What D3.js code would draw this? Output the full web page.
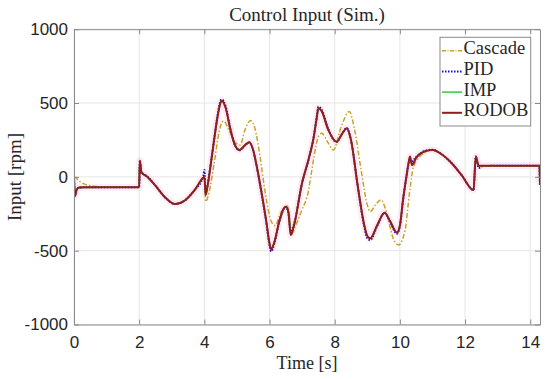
<!DOCTYPE html>
<html>
<head>
<meta charset="utf-8">
<title>Control Input (Sim.)</title>
<script src="https://d3js.org/d3.v7.min.js"></script>
<style>
  body { margin: 0; background: #fff; }
  .tick text { font-family: "Liberation Sans", Arial, sans-serif; font-size: 17px; fill: #262626; }
  .serif { font-family: "Liberation Serif", "Times New Roman", serif; fill: #262626; }
</style>
</head>
<body>
<div id="chart"></div>
<script>
// tick values
const xTicks = [0, 2, 4, 6, 8, 10, 12, 14];
const yTicks = [-1000, -500, 0, 500, 1000];

// time samples shared by PID / IMP / RODOB
const tMain = [0.00, 0.03, 0.08, 0.15, 0.30, 2.00, 2.02, 2.07, 2.25, 2.50,
  2.80, 3.10, 3.40, 3.70, 3.97, 4.00, 4.04, 4.10, 4.20, 4.30,
  4.40, 4.48, 4.53, 4.65, 4.80, 4.95, 5.08, 5.25, 5.38, 5.50,
  5.60, 5.75, 5.90, 6.00, 6.05, 6.15, 6.30, 6.45, 6.50, 6.58,
  6.65, 6.75, 7.00, 7.20, 7.35, 7.45, 7.50, 7.60, 7.80, 8.06,
  8.25, 8.37, 8.50, 8.70, 8.90, 9.00, 9.09, 9.30, 9.53, 9.70,
  9.91, 10.00, 10.10, 10.20, 10.28, 10.31, 10.37, 10.50, 10.75, 11.00,
  11.30, 11.60, 11.90, 12.26, 12.33, 12.42, 12.50, 12.60, 14.28, 14.30];

const rodob = [0, -130, -90, -72, -70, -70, 110, 30, 0, -60,
  -140, -184, -160, -90, -5, 0, -123, -60, 90, 250,
  400, 490, 516, 470, 320, 210, 182, 215, 234, 180,
  80, -100, -300, -450, -491, -440, -300, -210, -202, -240,
  -394, -330, -40, 120, 260, 400, 465, 445, 320, 238,
  300, 329, 250, -50, -320, -400, -416, -330, -243, -300,
  -378, -330, -150, 0, 110, 137, 80, 130, 172, 182,
  150, 90, 10, -89, 137, 74, 76, 76, 76, -55];

const pid = [0, -120, -85, -74, -70, -70, 110, 35, 2, -60,
  -140, -184, -160, -90, 5, 47, -110, -55, 95, 255,
  410, 505, 525, 480, 325, 210, 180, 215, 232, 178,
  78, -105, -310, -465, -505, -450, -305, -212, -205, -245,
  -370, -320, -40, 120, 265, 410, 475, 455, 325, 236,
  302, 330, 250, -55, -330, -415, -428, -335, -245, -305,
  -385, -335, -155, 0, 100, 115, 105, 135, 174, 184,
  150, 90, 10, -89, 137, 60, 70, 74, 76, -55];

const imp = [0, -100, -80, -76, -72, -70, 110, 30, 0, -60,
  -140, -184, -160, -90, -5, 0, -123, -60, 90, 250,
  400, 490, 516, 470, 320, 210, 182, 215, 234, 180,
  80, -100, -300, -450, -491, -440, -300, -210, -202, -240,
  -394, -330, -40, 120, 260, 400, 465, 445, 320, 238,
  300, 329, 250, -50, -320, -400, -416, -330, -243, -300,
  -378, -330, -150, 0, 110, 137, 80, 130, 172, 182,
  150, 90, 10, -89, 137, 74, 76, 76, 76, -55];

// Cascade has its own time samples
const tCascade = [0.00, 0.05, 0.20, 0.40, 0.70, 1.00, 2.00, 2.02, 2.07, 2.25,
  2.50, 2.80, 3.10, 3.40, 3.70, 3.97, 4.00, 4.04, 4.15, 4.30,
  4.45, 4.52, 4.59, 4.75, 4.95, 5.10, 5.25, 5.42, 5.55, 5.70,
  5.90, 6.05, 6.17, 6.35, 6.53, 6.60, 6.66, 6.80, 7.00, 7.20,
  7.25, 7.40, 7.50, 7.60, 7.80, 7.96, 8.20, 8.45, 8.60, 8.80,
  9.00, 9.09, 9.25, 9.42, 9.60, 9.80, 9.96, 10.16, 10.30, 10.42,
  10.73, 11.00, 11.30, 11.60, 11.90, 12.26, 12.33, 12.42, 12.60, 14.28,
  14.30];

const cascade = [0, -5, -35, -55, -66, -70, -70, 110, 30, 0,
  -60, -140, -184, -160, -90, -5, 0, -168, -100, 90,
  300, 360, 379, 320, 230, 216, 320, 381, 330, 150,
  -150, -300, -330, -240, -195, -240, -394, -330, -220, -89,
  -21, 180, 272, 295, 230, 182, 340, 442, 330, 60,
  -190, -236, -190, -156, -250, -420, -461, -360, -100, 69,
  160, 182, 150, 90, 10, -89, 137, 74, 76, 76,
  -55];

const seriesNames = ["Cascade", "PID", "IMP", "RODOB"];

const W = 550, H = 379;
const mLeft = 74, mRight = 540, mTop = 29.2, mBottom = 324.5;

const svg = d3.select("#chart").append("svg")
  .attr("width", W).attr("height", H);

const x = d3.scaleLinear().domain([0, 14.3]).range([mLeft, mRight]);
const y = d3.scaleLinear().domain([-1000, 1000]).range([mBottom, mTop]);

// grid
svg.append("g").selectAll("line").data(xTicks).enter().append("line")
  .attr("x1", d => x(d)).attr("x2", d => x(d))
  .attr("y1", mTop).attr("y2", mBottom)
  .attr("stroke", "#e6e6e6").attr("stroke-width", 1);
svg.append("g").selectAll("line").data(yTicks).enter().append("line")
  .attr("x1", mLeft).attr("x2", mRight)
  .attr("y1", d => y(d)).attr("y2", d => y(d))
  .attr("stroke", "#e6e6e6").attr("stroke-width", 1);

svg.append("clipPath").attr("id", "clip").append("rect")
  .attr("x", mLeft).attr("y", mTop).attr("width", mRight - mLeft).attr("height", mBottom - mTop);

const plot = svg.append("g").attr("clip-path", "url(#clip)");

const line = d3.line().x(d => x(d[0])).y(d => y(d[1])).curve(d3.curveMonotoneX);
const zipM = vals => tMain.map((t, i) => [t, vals[i]]);
const cascadePts = tCascade.map((t, i) => [t, cascade[i]]);

// faint pink halo under the curves
plot.append("path").datum(zipM(rodob)).attr("d", line)
  .attr("fill", "none").attr("stroke", "#ffd9f2").attr("stroke-width", 7)
  .attr("stroke-linejoin", "round").attr("opacity", 0.55);

plot.append("path").datum(cascadePts).attr("d", line)
  .attr("fill", "none").attr("stroke", "#c9a227").attr("stroke-width", 1.5)
  .attr("stroke-dasharray", "5,2,1.5,2");

plot.append("path").datum(zipM(pid)).attr("d", line)
  .attr("fill", "none").attr("stroke", "#1010e0").attr("stroke-width", 2)
  .attr("stroke-dasharray", "1.5,1.5");

plot.append("path").datum(zipM(imp)).attr("d", line)
  .attr("fill", "none").attr("stroke", "#33cc33").attr("stroke-width", 1.5);

plot.append("path").datum(zipM(rodob)).attr("d", line)
  .attr("fill", "none").attr("stroke", "#931c1c").attr("stroke-width", 2);

// axes (MATLAB style: inward ticks, box)
const axisColor = "#8a8a8a";
const fmt = d => String(d);
function styleAxis(g) {
  g.select(".domain").attr("stroke", axisColor);
  g.selectAll(".tick line").attr("stroke", axisColor);
}
svg.append("g").attr("transform", `translate(0,${mBottom})`)
  .call(d3.axisBottom(x).tickValues(xTicks).tickSize(-5).tickSizeOuter(0).tickPadding(11.7).tickFormat(fmt))
  .call(styleAxis).call(g => g.attr("font-family", null).attr("font-size", null));
svg.append("g").attr("transform", `translate(${mLeft},0)`)
  .call(d3.axisLeft(y).tickValues(yTicks).tickSize(-5).tickSizeOuter(0).tickPadding(6).tickFormat(fmt))
  .call(styleAxis).call(g => g.attr("font-family", null).attr("font-size", null));
svg.append("g").attr("transform", `translate(0,${mTop})`)
  .call(d3.axisTop(x).tickValues(xTicks).tickSize(-5).tickSizeOuter(0).tickFormat(""))
  .call(styleAxis);
svg.append("g").attr("transform", `translate(${mRight},0)`)
  .call(d3.axisRight(y).tickValues(yTicks).tickSize(-5).tickSizeOuter(0).tickFormat(""))
  .call(styleAxis);

// title and labels
svg.append("text").attr("class", "serif").attr("x", 307).attr("y", 21)
  .attr("text-anchor", "middle").attr("font-size", 19).text("Control Input (Sim.)");
svg.append("text").attr("class", "serif").attr("x", 307).attr("y", 369)
  .attr("text-anchor", "middle").attr("font-size", 18).text("Time [s]");
svg.append("text").attr("class", "serif")
  .attr("transform", "translate(21,177) rotate(-90)")
  .attr("text-anchor", "middle").attr("font-size", 19).text("Input [rpm]");

// legend
const legend = svg.append("g");
legend.append("rect").attr("x", 440).attr("y", 37.3).attr("width", 90.7).attr("height", 88.7)
  .attr("fill", "#fff").attr("stroke", "#8a8a8a").attr("stroke-width", 1);
const legStyles = [
  { color: "#c9a227", width: 1.5, dash: "4,1.5,1,1.5" },
  { color: "#1010e0", width: 2, dash: "1.5,1.5" },
  { color: "#33cc33", width: 1.5, dash: null },
  { color: "#931c1c", width: 2, dash: null }
];
seriesNames.forEach((name, i) => {
  const yy = 50.7 + i * 20.7;
  const s = legStyles[i];
  legend.append("line").attr("x1", 442).attr("x2", 462).attr("y1", yy).attr("y2", yy)
    .attr("stroke", s.color).attr("stroke-width", s.width)
    .attr("stroke-dasharray", s.dash);
  legend.append("text").attr("class", "serif").attr("x", 463.5).attr("y", yy + 2.7)
    .attr("dy", "0.05em").attr("font-size", 18.5).text(name);
});
</script>
</body>
</html>
